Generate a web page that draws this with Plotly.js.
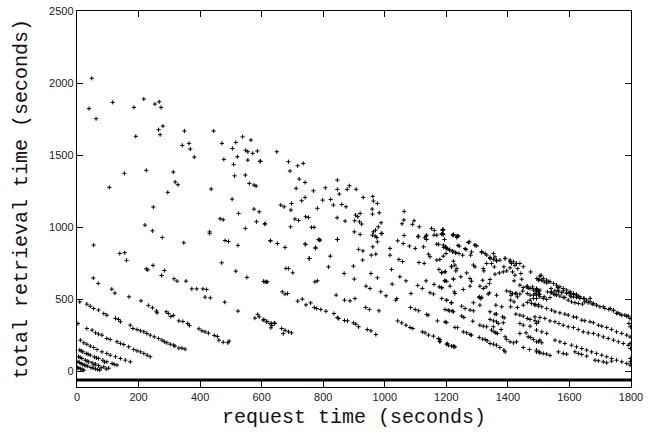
<!DOCTYPE html>
<html>
<head>
<meta charset="utf-8">
<script src="https://cdn.plot.ly/plotly-3.0.1.min.js"></script>
<style>html,body{margin:0;padding:0;background:#fff;}#chart{width:652px;height:435px;}</style>
</head>
<body>
<div id="chart"></div>
<script>
// request time (s) and total retrieval time (s)
const reqTime = [
48,39,62,116,185,217,253,267,273,279,265,270,191,154,225,105,295,313,319,328,342,349,364,368,381,436,444,471,477,505,509,512,516,521,538,548,555,555,565,571,586,596,547,560,575,582,504,
525,575,592,583,611,547,628,465,475,431,431,481,492,523,248,221,245,277,347,54,139,155,161,225,230,247,284,275,315,325,354,373,389,409,421,416,433,480,516,552,470,606,616,523,
53,69,113,123,169,208,232,245,258,260,290,297,305,313,331,344,360,365,396,406,416,427,446,456,461,475,490,494,587,592,578,607,617,627,633,641,
9,32,43,54,70,87,97,125,135,141,173,182,195,206,217,227,238,251,265,276,284,292,303,314,318,331,341,351,3,
32,49,60,70,81,97,108,130,141,152,168,184,195,206,217,228,238,
11,22,32,43,54,65,81,97,108,125,141,157,173,
9,19,30,43,56,70,84,97,114,130,14,36,63,90,121,
5,16,27,38,49,60,70,87,103,10,33,55,78,95,
3,13,24,35,45,60,74,8,19,29,52,67,
2,11,22,6,17,
629,651,676,743,775,787,846,901,920,963,969,991,976,961,956,971,755,823,898,928,915,929,
1017,1017,1042,1060,1080,1099,1126,1109,1134,1160,1185,1188,1223,1239,1142,1147,1169,1190,1199,1210,1221,1231,1238,
817,773,781,868,901,955,976,939,952,987,1004,1024,1036,1039,1049,1069,1085,1107,1122,1134,1147,1158,1160,1177,1185,1194,1223,1226,1176,1185,1196,1169,1179,1217,1228,1111,1128,1046,1058,1022,
1201,1216,1206,1219,1084,1099,1110,1136,1141,1171,1196,
717,732,744,759,771,779,792,809,835,846,850,869,879,898,906,915,943,955,971,842,869,887,903,938,950,981,
1042,1055,1069,1082,1091,1122,1131,1142,1158,1174,1179,1201,1217,1225,
605,616,632,643,630,665,676,687,697,670,611,618,667,676,684,679,687,701,754,
649,595,687,692,717,735,722,741,712,768,807,846,846,852,878,885,907,930,961,963,976,798,824,833,860,874,781,741,730,697,695,662,673,610,708,720,743,752,694,762,770,845,871,905,912,920,902,918,925,959,960,982,988,979,970,988,960,974,785,790,846,741,775,
1063,1062,1095,1056,1090,1112,1063,1152,1161,1188,1169,1185,1194,1221,1235,1136,1130,1136,1108,1175,1197,1242,
1190,1188,1223,1236,1192,1201,1210,1220,1230,1241,1271,1293,1299,1261,1264,1282,1315,1326,1190,1199,1253,1279,1223,1353,1358,1363,1342,1331,1347,1356,1391,1407,1412,1423,1439,1432,1407,1396,1387,1288,1293,1320,1322,1217,1234,1231,1266,1277,1282,1185,1196,1196,1201,1247,1223,
1318,1340,1342,1358,1372,1385,1415,1423,1442,1445,1420,1439,1450,1463,1466,1480,1474,1494,1500,1494,1488,1502,
1185,1212,1255,1277,1309,1320,1329,1340,1363,1396,1410,1426,1431,1307,1312,1228,1185,
1508,1501,1510,1518,1526,1533,1493,1504,1540,1542,1562,1564,1553,1558,1580,1591,1602,1613,1623,1629,1605,1585,1518,1537,1493,1648,1667,1501,
1201,1217,1196,1210,1223,1201,1250,1261,1277,1288,1288,1309,1307,1315,1336,1250,1257,1286,1228,1236,1179,1179,1203,1207,1223,1228,1255,1266,1277,1282,1309,1320,1331,1353,
1307,1318,1326,1333,1342,1353,1363,1374,1387,1391,1342,1358,1363,1383,1388,1342,1353,1363,1369,1385,1347,1355,1361,1366,1391,1396,1407,1418,1428,1361,1380,
1407,1415,1426,1439,1448,1463,1472,1483,1493,1502,1409,1420,1409,1431,1450,1463,1477,1488,1499,1472,1483,1426,1439,1450,1463,1472,1488,1499,1439,1450,1472,1493,1439,1459,1466,1474,1483,1493,1504,1450,1470,1493,1502,1378,
1499,1529,1540,1548,1558,1569,1580,1553,1564,1575,1591,1602,1613,1623,1634,1493,1504,1515,1526,1596,1607,1618,1629,1642,1650,1661,1674,1688,1699,1715,1728,1743,1757,1764,1780,1791,
1488,1499,1510,1526,1542,1553,1569,1585,1596,1613,1623,1640,1650,1667,1678,1694,1705,1721,1737,1753,1770,1786,1797,
1488,1504,1520,1537,1553,1566,1580,1596,1613,1629,1645,1661,1678,1694,1710,1726,1743,1759,1775,1791,
1493,1510,1526,1553,1569,1585,1607,1623,1640,1656,1672,1688,1705,1721,1737,1753,1770,1786,1797,
1499,1510,1493,1504,1515,1526,1537,1564,1580,1591,1618,1629,1640,1656,1683,1694,1710,1721,1737,
1793,1798,1797,1798,1798,1798,
1188,1190,1223,1234,1275,1293,1315,1331,1342,1353,1363,1374,1391,1407,1418,1428,1450,
1504,1515,1526,1537,1548,1558,1569,1580,1591,1602,1613,1623,1634,1645,1656,1667,1678,1688,1710,1732,1743,1753,1770,1786,1797,1461,1472,1483,1493
];
const retTime = [
2033,1822,1752,1866,1831,1889,1854,1870,1831,1701,1676,1641,1630,1373,1394,1276,1241,1382,1313,1294,1567,1667,1581,1542,1486,1264,1667,1581,1470,1546,1435,1356,1588,1488,1627,1533,1523,1465,1604,1512,1528,1456,1361,1303,1292,1285,1194,
1095,1125,1106,1037,1023,991,905,1058,1051,967,956,907,900,873,1139,1014,974,928,891,875,817,822,769,710,703,734,699,664,641,625,625,571,571,571,567,514,509,479,694,651,752,623,620,417,
646,609,569,542,516,488,456,440,417,405,412,400,380,387,349,345,331,317,294,280,273,264,248,241,215,201,197,208,394,377,368,359,345,331,317,335,
481,465,451,435,424,400,389,366,359,343,319,296,289,280,273,262,250,238,227,215,204,197,187,180,174,160,160,153,330,
296,285,266,257,250,227,220,204,192,185,169,150,141,134,123,111,100,
215,197,187,174,164,150,134,123,111,100,88,76,65,
146,134,123,111,99,88,76,65,53,42,140,117,92,63,47,
100,88,76,65,58,49,39,30,21,96,70,44,23,15,
65,53,42,35,25,16,7,60,47,38,21,11,
25,16,7,21,12,
905,886,859,879,852,910,914,967,949,967,937,956,898,863,805,812,782,798,729,771,845,835,
852,805,905,886,868,852,863,937,937,944,951,979,947,937,812,794,882,875,859,845,835,822,873,
724,620,627,678,639,678,648,590,574,551,523,604,493,504,655,627,539,595,574,627,544,535,602,585,578,627,641,551,706,683,690,771,775,729,736,754,748,775,761,706,
493,474,423,419,442,428,419,393,389,349,342,
486,500,460,474,442,435,428,416,400,372,365,352,349,335,326,308,289,280,254,528,493,488,504,442,428,419,
349,335,319,303,296,273,266,250,243,227,208,187,173,169,
354,342,331,331,301,296,284,273,266,261,620,620,551,535,539,713,713,683,782,
1523,1458,1454,1389,1426,1442,1333,1310,1269,1252,1273,1326,1262,1229,1262,1287,1262,1206,1213,1181,1164,1187,1192,1153,1157,1141,1130,1206,1183,1164,1118,1153,1141,1021,1056,1046,1072,1067,1002,998,998,1065,1042,1083,1072,1095,1044,1037,1021,1125,1090,1099,1030,1002,979,956,944,928,914,910,914,882,859,
1109,1049,1044,1023,1019,1002,942,991,977,984,944,951,914,944,937,944,926,914,933,880,863,868,
983,956,949,939,858,851,840,828,821,817,893,874,870,851,844,828,824,817,798,817,805,805,763,817,793,770,782,747,747,724,782,759,747,735,747,712,717,696,724,736,724,712,696,724,712,696,682,643,624,685,689,627,624,655,638,
631,608,636,673,682,689,689,666,678,638,627,597,580,590,576,585,689,643,631,567,539,532,
580,590,567,590,590,574,585,543,527,557,527,543,516,511,504,539,504,
666,638,631,620,613,620,574,562,574,550,580,562,532,532,557,543,543,532,527,516,516,511,516,511,504,504,506,534,
493,475,428,419,412,338,451,435,424,419,475,458,516,512,535,382,373,347,303,303,220,204,192,180,174,169,273,266,255,250,319,312,308,308,
234,222,220,211,192,187,180,164,146,134,412,396,396,377,370,359,350,343,331,336,285,273,266,262,238,220,204,197,204,458,447,
551,539,535,535,556,539,528,528,562,535,493,481,447,442,458,477,470,465,461,493,505,396,389,382,366,359,350,343,331,319,312,331,262,266,238,234,220,204,215,164,150,146,134,289,
551,551,544,535,528,521,512,558,551,544,539,528,516,512,505,528,516,505,498,493,481,475,470,465,481,475,465,456,447,435,428,419,405,396,389,382,
458,451,447,435,424,412,405,396,389,377,373,354,350,343,336,319,312,303,289,273,262,250,238,
377,373,366,349,343,331,319,308,303,289,273,266,262,250,238,227,215,204,192,180,
285,273,262,215,204,192,180,169,157,146,134,123,111,100,88,76,65,53,42,
204,197,134,127,123,118,109,134,123,118,134,123,116,104,76,72,65,58,69,
331,308,192,157,88,65,
979,949,945,928,898,875,829,806,790,776,764,771,783,771,759,748,725,
660,644,632,621,609,597,586,574,563,551,540,533,516,505,493,482,470,459,447,435,424,401,389,382,366,586,574,563,551
];
// horizontal baseline drawn under the axis
const baseX = [0, 1800];
const baseY = [-62, -62];

const xTicks = [0,200,400,600,800,1000,1200,1400,1600,1800];
const yTicks = [0,500,1000,1500,2000,2500];

const n = Math.min(reqTime.length, retTime.length);
const traces = [
  {x: baseX, y: baseY, mode: 'lines', line: {color: '#000', width: 3}, hoverinfo: 'skip'},
  {x: reqTime.slice(0,n), y: retTime.slice(0,n), mode: 'markers', type: 'scatter',
   marker: {symbol: 'cross-thin', size: 3, color: '#000', line: {color: '#000', width: 1}}}
];

const tickFont = {family: 'Liberation Sans, Arial, sans-serif', size: 11, color: '#222'};
const titleFont = {family: 'Nimbus Mono PS, Courier, Liberation Mono, monospace', size: 20, color: '#111'};

const layout = {
  width: 652, height: 435,
  margin: {l: 77, r: 21, t: 11, b: 48},
  paper_bgcolor: '#fff', plot_bgcolor: '#fff',
  showlegend: false,
  xaxis: {
    range: [0, 1800], tickvals: xTicks, ticktext: xTicks.map(String),
    ticks: 'inside', ticklen: 6, tickcolor: '#000', mirror: 'ticks',
    showline: true, linecolor: '#000', linewidth: 1.2, showgrid: false, zeroline: false,
    tickfont: tickFont,
    title: {text: 'request time (seconds)', font: titleFont, standoff: 6}
  },
  yaxis: {
    range: [-110, 2500], tickvals: yTicks, ticktext: yTicks.map(String),
    ticks: 'inside', ticklen: 6, tickcolor: '#000', mirror: 'ticks',
    showline: true, linecolor: '#000', linewidth: 1.2, showgrid: false, zeroline: false,
    tickfont: tickFont,
    title: {text: 'total retrieval time (seconds)', font: titleFont, standoff: 16}
  }
};

Plotly.newPlot('chart', traces, layout, {displayModeBar: false, staticPlot: true});
</script>
</body>
</html>
